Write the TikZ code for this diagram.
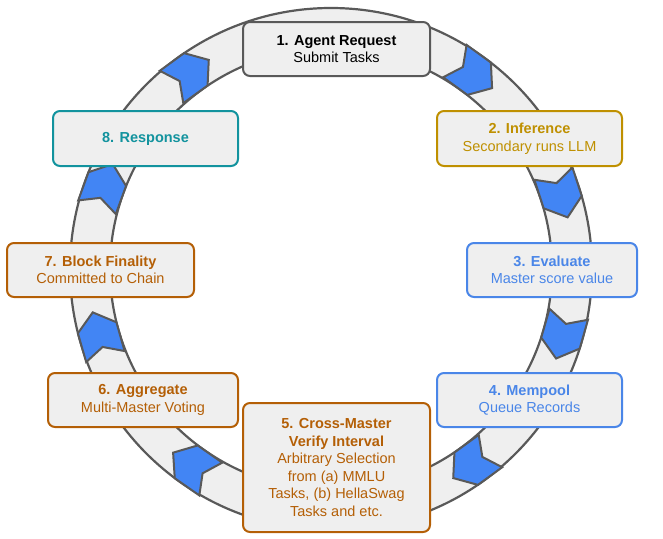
\documentclass[tikz,border=0pt]{standalone}
\usepackage{fontspec}
\setmainfont{Liberation Sans}
\usetikzlibrary{calc}
\definecolor{ringgray}{HTML}{EFEFEF}
\definecolor{edgegray}{HTML}{595959}
\definecolor{gold}{HTML}{BF9000}
\definecolor{skyblue}{HTML}{4A86E8}
\definecolor{rust}{HTML}{B45F06}
\definecolor{teal}{HTML}{12939E}
\definecolor{arrowblue}{HTML}{4285F4}
\tikzset{
  step/.style={draw=#1, text=#1, fill=ringgray, line width=2pt, rounded corners=7pt,
    align=center, font=\fontsize{14.5}{17.5}\selectfont, inner sep=0pt},
  flow/.style={fill=arrowblue, draw=edgegray, line width=2pt, line join=miter}
}
\begin{document}
\begin{tikzpicture}[x=1pt, y=-1pt]
\useasboundingbox (0,0) rectangle (663,538);
% Ring
\fill[ringgray, even odd rule, draw=edgegray, line width=2.2pt] (331,269) circle (261) (331,269) circle (221);

% Pfeile im Ring
\foreach \a in {234,306,342,16,54,125,164,200} {
  \begin{scope}[shift={($(331,269)+(\a:241)$)}, rotate=-\a-90]
    \draw[flow] (-22,-20) -- (8,-20) -- (24,0) -- (8,20) -- (-22,20) -- (-12,0) -- cycle;
  \end{scope}
}

% Schritte
\node[step=edgegray, minimum width=187pt, minimum height=54pt, text=black] (req) at (336.5,49)
  {\textbf{1. Agent Request}\\Submit Tasks};
\node[step=gold, minimum width=185pt, minimum height=55pt] (inf) at (529.5,138.5)
  {\textbf{2. Inference}\\Secondary runs LLM};
\node[step=skyblue, minimum width=170pt, minimum height=54pt] (eval) at (552,270)
  {\textbf{3. Evaluate}\\Master score value};
\node[step=skyblue, minimum width=185pt, minimum height=54pt] (pool) at (529.5,400)
  {\textbf{4. Mempool}\\Queue Records};
\node[step=rust, minimum width=187pt, minimum height=129pt, text=rust] (verify) at (336.5,467.5)
  {\textbf{5. Cross-Master}\\\textbf{Verify Interval}\\Arbitrary Selection\\from (a) MMLU\\Tasks, (b) HellaSwag\\Tasks and etc.};
\node[step=rust, minimum width=190pt, minimum height=54pt] (agg) at (143,400)
  {\textbf{6. Aggregate}\\Multi-Master Voting};
\node[step=rust, minimum width=187pt, minimum height=54pt] (final) at (100.5,270)
  {\textbf{7. Block Finality}\\Committed to Chain};
\node[step=teal, minimum width=185pt, minimum height=55pt] (resp) at (145.5,138.5)
  {\textbf{8. Response}};
\end{tikzpicture}
\end{document}
